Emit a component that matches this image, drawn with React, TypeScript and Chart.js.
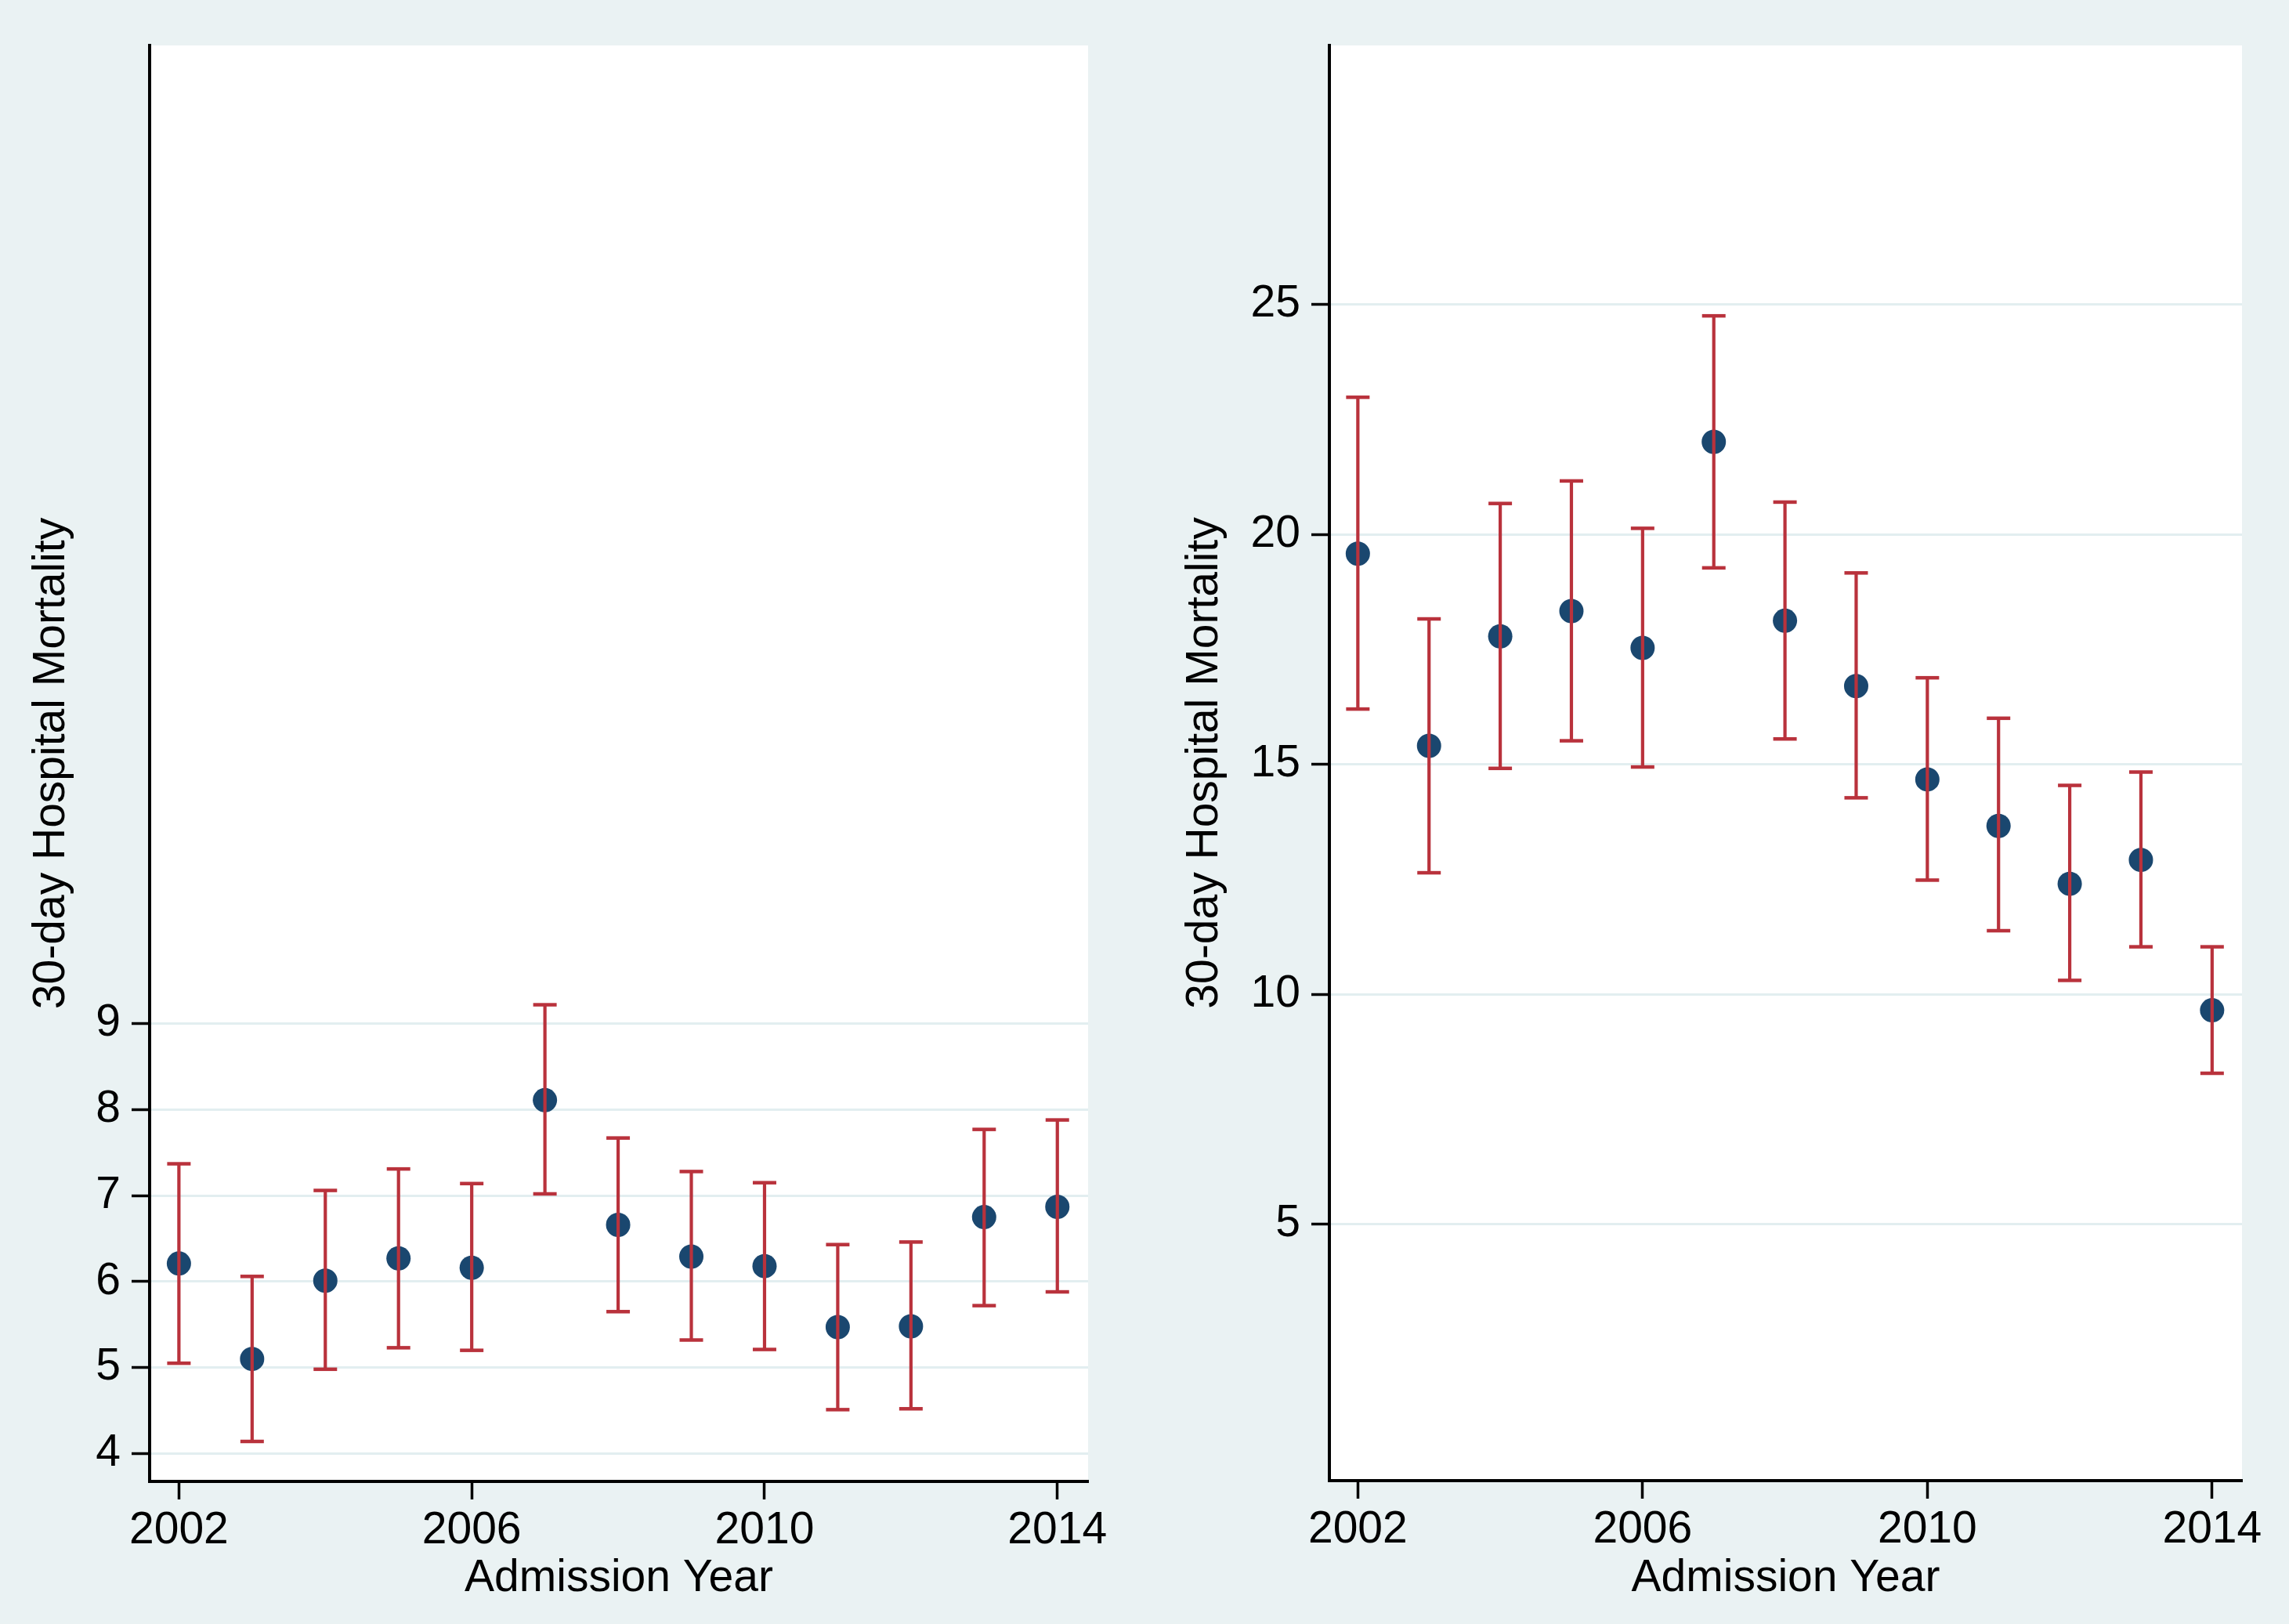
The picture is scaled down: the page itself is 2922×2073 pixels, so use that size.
import React, { useEffect, useRef } from 'react';
import { Chart, registerables } from 'chart.js';

Chart.register(...registerables);

// ---------- data ----------
const years = [2002, 2003, 2004, 2005, 2006, 2007, 2008, 2009, 2010, 2011, 2012, 2013, 2014];

const leftMean = [6.21, 5.1, 6.01, 6.27, 6.16, 8.11, 6.66, 6.29, 6.18, 5.47, 5.48, 6.75, 6.87];
const leftUpper = [7.37, 6.06, 7.06, 7.31, 7.14, 9.22, 7.67, 7.28, 7.15, 6.43, 6.46, 7.77, 7.88];
const leftLower = [5.05, 4.14, 4.98, 5.23, 5.2, 7.02, 5.65, 5.32, 5.21, 4.51, 4.52, 5.72, 5.88];

const rightMean = [19.58, 15.4, 17.78, 18.33, 17.53, 22.01, 18.12, 16.7, 14.67, 13.66, 12.4, 12.92, 9.65];
const rightUpper = [22.98, 18.16, 20.67, 21.16, 20.13, 24.75, 20.7, 19.16, 16.88, 16.0, 14.54, 14.83, 11.03];
const rightLower = [16.2, 12.64, 14.91, 15.51, 14.94, 19.27, 15.55, 14.27, 12.48, 11.38, 10.3, 11.03, 8.28];

const xTicks = [2002, 2006, 2010, 2014];
const leftYTicks = [4, 5, 6, 7, 8, 9];
const rightYTicks = [5, 10, 15, 20, 25];

const xTitle = 'Admission Year';
const yTitle = '30-day Hospital Mortality';

// ---------- styles ----------
const BG = '#eaf2f3';
const GRID = '#e2eef0';
const NAVY = '#1a476f';
const RED = '#b9323c';
const FONT = "'Liberation Sans', Arial, Helvetica, sans-serif";
const W = 1461;
const H = 2073;

const plotBg = {
  id: 'plotBg',
  beforeDraw(chart: any) {
    const { ctx, chartArea: a } = chart;
    ctx.save();
    ctx.fillStyle = '#ffffff';
    ctx.fillRect(a.left, a.top, a.right - a.left, a.bottom - a.top);
    ctx.restore();
  },
};

type PanelProps = {
  mean: number[];
  lower: number[];
  upper: number[];
  yMin: number;
  yMax: number;
  yTicks: number[];
  padRight: number;
  yAxisWidth: number;
  xAxisHeight: number;
  yTitlePad: number;
  left: number;
};

function Panel(p: PanelProps) {
  const ref = useRef<HTMLCanvasElement | null>(null);

  useEffect(() => {
    if (!ref.current) return;
    const segs: any[] = [];
    const caps: any[] = [];
    years.forEach((yr, i) => {
      segs.push({ x: yr, y: p.lower[i] });
      segs.push({ x: yr, y: p.upper[i] });
      segs.push({ x: yr, y: null });
      caps.push({ x: yr, y: p.lower[i] });
      caps.push({ x: yr, y: p.upper[i] });
    });
    const dots = years.map((yr, i) => ({ x: yr, y: p.mean[i] }));

    const chart = new Chart(ref.current, {
      type: 'scatter',
      data: {
        datasets: [
          {
            data: caps,
            pointStyle: 'line',
            pointRadius: 15,
            pointHoverRadius: 15,
            pointBorderWidth: 4.5,
            pointBorderColor: RED,
            pointBackgroundColor: RED,
            showLine: false,
            order: 0,
          } as any,
          {
            data: segs,
            showLine: true,
            spanGaps: false,
            borderColor: RED,
            borderWidth: 4.2,
            pointRadius: 0,
            pointHoverRadius: 0,
            order: 1,
          } as any,
          {
            data: dots,
            pointStyle: 'circle',
            pointRadius: 15.5,
            pointHoverRadius: 15.5,
            pointBorderWidth: 0,
            pointBackgroundColor: NAVY,
            pointBorderColor: NAVY,
            showLine: false,
            order: 2,
          } as any,
        ],
      },
      options: {
        animation: false,
        responsive: false,
        devicePixelRatio: 1,
        events: [],
        layout: { padding: { left: 0, top: 58, right: p.padRight, bottom: 0 } },
        plugins: { legend: { display: false }, tooltip: { enabled: false } },
        scales: {
          x: {
            type: 'linear',
            min: 2001.6,
            max: 2014.42,
            afterBuildTicks: (s: any) => {
              s.ticks = xTicks.map((v) => ({ value: v }));
            },
            afterFit: (s: any) => {
              s.height = p.xAxisHeight;
            },
            grid: {
              display: true,
              drawOnChartArea: false,
              drawTicks: true,
              tickLength: 23,
              tickColor: '#000',
              tickWidth: 3.5,
            },
            border: { display: true, color: '#000', width: 4 },
            ticks: {
              color: '#000',
              font: { family: FONT, size: 57 },
              padding: 6,
              maxRotation: 0,
              autoSkip: false,
              callback: (v: any) => String(v),
            },
            title: {
              display: true,
              text: xTitle,
              color: '#000',
              font: { family: FONT, size: 57 },
              padding: { top: 0, bottom: 24 },
            },
          },
          y: {
            type: 'linear',
            min: p.yMin,
            max: p.yMax,
            afterBuildTicks: (s: any) => {
              s.ticks = p.yTicks.map((v) => ({ value: v }));
            },
            afterFit: (s: any) => {
              s.width = p.yAxisWidth;
            },
            grid: {
              display: true,
              drawOnChartArea: true,
              drawTicks: true,
              color: GRID,
              lineWidth: 3,
              tickLength: 23,
              tickColor: '#000',
              tickWidth: 3.5,
            },
            border: { display: true, color: '#000', width: 4 },
            ticks: {
              color: '#000',
              font: { family: FONT, size: 57 },
              padding: 14,
              autoSkip: false,
              callback: (v: any) => String(v),
            },
            title: {
              display: true,
              text: yTitle,
              color: '#000',
              font: { family: FONT, size: 57 },
              padding: { top: p.yTitlePad, bottom: 0 },
            },
          },
        },
      },
      plugins: [plotBg],
    } as any);

    return () => chart.destroy();
  }, []);

  return (
    <canvas
      ref={ref}
      width={W}
      height={H}
      style={{ position: 'absolute', left: p.left, top: 0, width: W, height: H }}
    />
  );
}

export default function App() {
  return (
    <div
      style={{
        position: 'fixed',
        left: 0,
        top: 0,
        width: 2922,
        height: 2073,
        background: BG,
        overflow: 'hidden',
      }}
    >
      <Panel
        mean={leftMean}
        lower={leftLower}
        upper={leftUpper}
        yMin={3.675}
        yMax={20.38}
        yTicks={leftYTicks}
        padRight={72}
        yAxisWidth={191}
        xAxisHeight={182}
        yTitlePad={32}
        left={0}
      />
      <Panel
        mean={rightMean}
        lower={rightLower}
        upper={rightUpper}
        yMin={-0.578}
        yMax={30.63}
        yTicks={rightYTicks}
        padRight={60}
        yAxisWidth={236}
        xAxisHeight={183}
        yTitlePad={43}
        left={1461}
      />
    </div>
  );
}
